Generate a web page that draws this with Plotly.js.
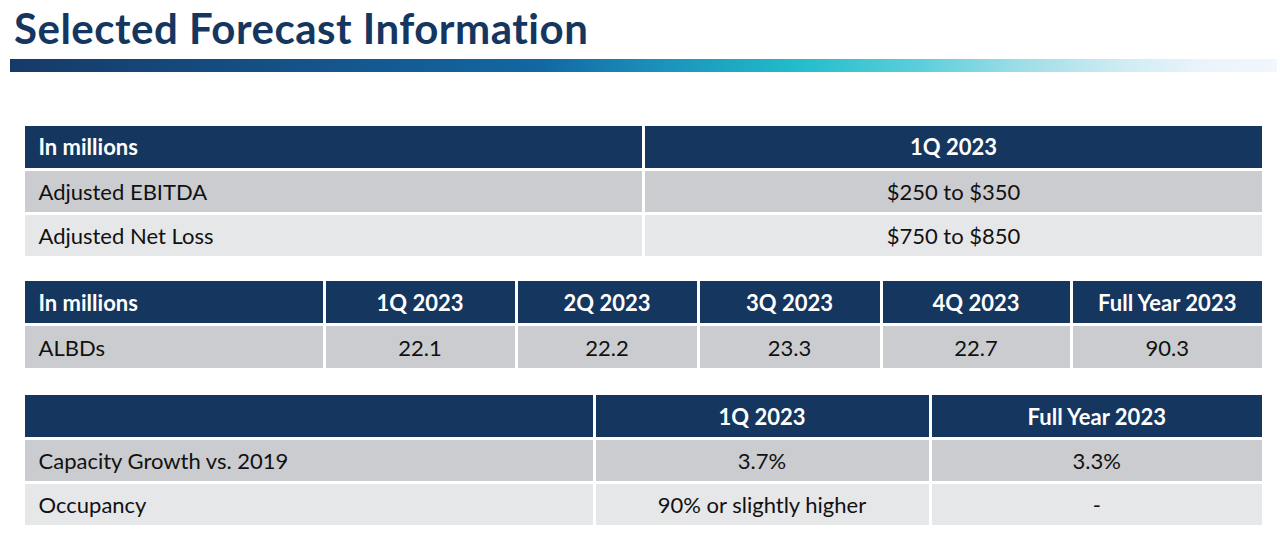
<!DOCTYPE html>
<html><head><meta charset="utf-8">
<script src="https://cdn.plot.ly/plotly-3.0.1.min.js"></script>
<style>html,body{margin:0;padding:0;background:#fff;}#chart{width:1280px;height:538px;}
.gtitle{letter-spacing:0.5px;}</style>
</head><body><div id="chart"></div>
<script>
const titleText = "Selected Forecast Information";
const t1Header = ["In millions", "1Q 2023"];
const t1Rows = ["Adjusted EBITDA", "Adjusted Net Loss"];
const t1Values = ["$250 to $350", "$750 to $850"];
const t2Header = ["In millions", "1Q 2023", "2Q 2023", "3Q 2023", "4Q 2023", "Full Year 2023"];
const t2Rows = ["ALBDs"];
const t2Values = [22.1, 22.2, 23.3, 22.7, 90.3];
const t3Header = ["", "1Q 2023", "Full Year 2023"];
const t3Rows = ["Capacity Growth vs. 2019", "Occupancy"];
const t3Q1 = ["3.7%", "90% or slightly higher"];
const t3FY = ["3.3%", "-"];

const W = 1280, H = 538;
const navy = "#15365f";
const gray1 = "#cbccd0", gray2 = "#e6e7e9";
const FONT = "Lato, 'Open Sans', sans-serif";
const hdrFont = {family: FONT, size: 22, color: "#ffffff", weight: "bold"};
const cellFont = {family: FONT, size: 22, color: "#111111"};
const line = {color: "#ffffff", width: 3};
const px = v => 1 - v / H;
const xDom = [23.5 / W, 1263.5 / W];

const rowColors = n => [gray1, gray2].slice(0, n);

const trace1 = {
  type: "table", domain: {x: xDom, y: [px(272), px(124.5)]},
  columnwidth: [620, 620],
  header: {values: t1Header, align: ["left", "center"], fill: {color: navy}, font: hdrFont, line: line, height: 44.5},
  cells: {values: [t1Rows, t1Values], align: ["left", "center"],
    fill: {color: [rowColors(t1Rows.length), rowColors(t1Rows.length)]}, font: cellFont, line: line, height: 44}
};
const trace2 = {
  type: "table", domain: {x: xDom, y: [px(386), px(279.5)]},
  columnwidth: [300.5, 192, 182, 183, 190, 192.5],
  header: {values: t2Header, align: ["left", "center"], fill: {color: navy}, font: hdrFont, line: line, height: 45},
  cells: {values: [t2Rows].concat(t2Values.map(v => [v.toFixed(1)])), align: ["left", "center"],
    fill: {color: gray1}, font: cellFont, line: line, height: 45}
};
const trace3 = {
  type: "table", domain: {x: xDom, y: [px(537), px(393.5)]},
  columnwidth: [570.5, 336, 333.5],
  header: {values: t3Header, align: ["left", "center"], fill: {color: navy}, font: hdrFont, line: line, height: 45},
  cells: {values: [t3Rows, t3Q1, t3FY], align: ["left", "center"],
    fill: {color: [rowColors(2), rowColors(2), rowColors(2)]}, font: cellFont, line: line, height: 44}
};

const grad = '<svg xmlns="http://www.w3.org/2000/svg" width="1267" height="13" preserveAspectRatio="none">' +
  '<defs><linearGradient id="g" x1="0" x2="1" y1="0" y2="0">' +
  '<stop offset="0" stop-color="#163a68"/>' +
  '<stop offset="0.25" stop-color="#14558c"/>' +
  '<stop offset="0.42" stop-color="#1268a2"/>' +
  '<stop offset="0.50" stop-color="#1a8cb8"/>' +
  '<stop offset="0.62" stop-color="#22bccb"/>' +
  '<stop offset="0.72" stop-color="#5ccfdc"/>' +
  '<stop offset="0.80" stop-color="#9fdee7"/>' +
  '<stop offset="0.88" stop-color="#d0ecf3"/>' +
  '<stop offset="0.94" stop-color="#eaf3fb"/>' +
  '<stop offset="1" stop-color="#f2f6fd"/>' +
  '</linearGradient></defs><rect width="1267" height="13" fill="url(#g)"/></svg>';

const layout = {
  width: W, height: H,
  margin: {l: 0, r: 0, t: 0, b: 0},
  paper_bgcolor: "#ffffff", plot_bgcolor: "#ffffff",
  showlegend: false,
  title: {text: titleText, x: 14 / W, xanchor: "left", xref: "paper", y: px(29), yanchor: "middle", yref: "container",
    font: {family: FONT, size: 42, color: navy, weight: "bold"}},
  images: [{source: "data:image/svg+xml;charset=utf-8," + encodeURIComponent(grad),
    xref: "paper", yref: "paper", x: 10 / W, y: px(59), sizex: 1267 / W, sizey: 13 / H,
    xanchor: "left", yanchor: "top", sizing: "stretch", layer: "below"}]
};

Plotly.newPlot("chart", [trace1, trace2, trace3], layout, {displayModeBar: false, staticPlot: true}).then(gd => {
  // Plotly tables top-align text; centre it vertically and pad left-aligned text like the reference.
  gd.querySelectorAll(".cell-text-holder").forEach(h => {
    const cell = h.parentNode;
    const rect = cell.querySelector(".cell-rect");
    if (!rect) return;
    const tb = h.getBBox();
    if (!tb.height) return;
    const rb = rect.getBBox();
    const c = h.transform.baseVal.consolidate();
    const e = c ? c.matrix.e : 0, f = c ? c.matrix.f : 0;
    const dy = (rb.y + rb.height / 2) - (f + tb.y + tb.height / 2);
    const dx = (e + tb.x - rb.x < 12) ? 7 : 0;
    h.setAttribute("transform", "translate(" + (e + dx) + "," + (f + dy) + ")");
  });
});
</script></body></html>
